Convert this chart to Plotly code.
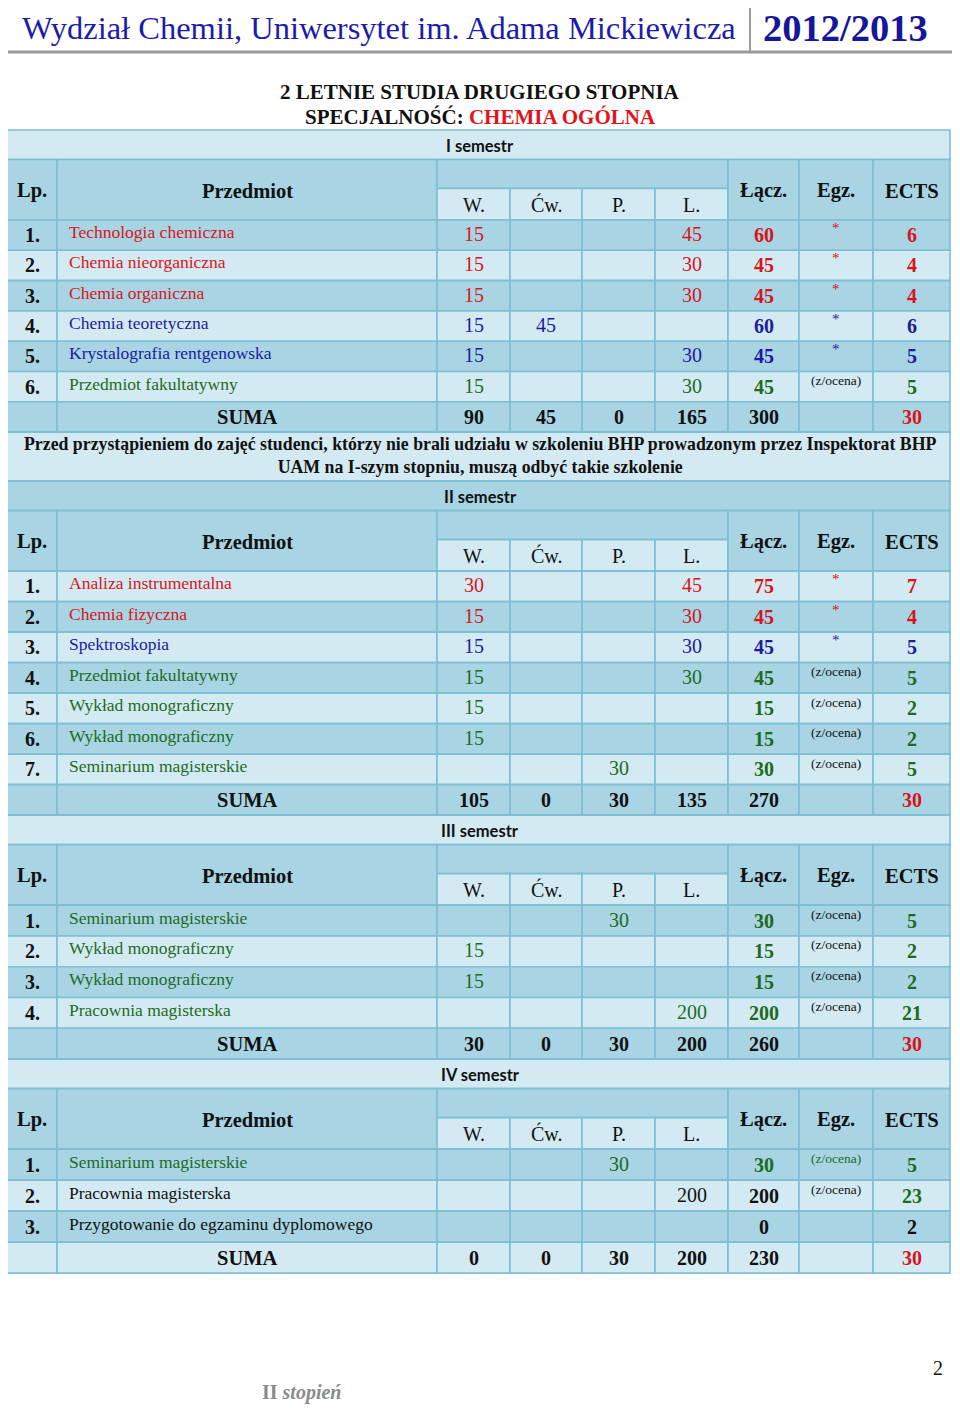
import plotly.graph_objects as go

# ---------------- data ----------------
COLUMNS = ["Lp.", "Przedmiot", "W.", "Ćw.", "P.", "L.", "Łącz.", "Egz.", "ECTS"]
SEMESTERS = ["I semestr", "II semestr", "III semestr", "IV semestr"]

sem1_subjects = ["Technologia chemiczna", "Chemia nieorganiczna", "Chemia organiczna",
                 "Chemia teoretyczna", "Krystalografia rentgenowska", "Przedmiot fakultatywny"]
sem1_w = [15, 15, 15, 15, 15, 15]
sem1_cw = [None, None, None, 45, None, None]
sem1_p = [None, None, None, None, None, None]
sem1_l = [45, 30, 30, None, 30, 30]
sem1_total = [60, 45, 45, 60, 45, 45]
sem1_egz = ["*", "*", "*", "*", "*", "(z/ocena)"]
sem1_ects = [6, 4, 4, 6, 5, 5]
sem1_suma = [90, 45, 0, 165, 300, 30]

sem2_subjects = ["Analiza instrumentalna", "Chemia fizyczna", "Spektroskopia",
                 "Przedmiot fakultatywny", "Wykład monograficzny", "Wykład monograficzny",
                 "Seminarium magisterskie"]
sem2_w = [30, 15, 15, 15, 15, 15, None]
sem2_cw = [None, None, None, None, None, None, None]
sem2_p = [None, None, None, None, None, None, 30]
sem2_l = [45, 30, 30, 30, None, None, None]
sem2_total = [75, 45, 45, 45, 15, 15, 30]
sem2_egz = ["*", "*", "*", "(z/ocena)", "(z/ocena)", "(z/ocena)", "(z/ocena)"]
sem2_ects = [7, 4, 5, 5, 2, 2, 5]
sem2_suma = [105, 0, 30, 135, 270, 30]

sem3_subjects = ["Seminarium magisterskie", "Wykład monograficzny", "Wykład monograficzny",
                 "Pracownia magisterska"]
sem3_w = [None, 15, 15, None]
sem3_cw = [None, None, None, None]
sem3_p = [30, None, None, None]
sem3_l = [None, None, None, 200]
sem3_total = [30, 15, 15, 200]
sem3_egz = ["(z/ocena)", "(z/ocena)", "(z/ocena)", "(z/ocena)"]
sem3_ects = [5, 2, 2, 21]
sem3_suma = [30, 0, 30, 200, 260, 30]

sem4_subjects = ["Seminarium magisterskie", "Pracownia magisterska",
                 "Przygotowanie do egzaminu dyplomowego"]
sem4_w = [None, None, None]
sem4_cw = [None, None, None]
sem4_p = [30, None, None]
sem4_l = [None, 200, None]
sem4_total = [30, 200, 0]
sem4_egz = ["(z/ocena)", "(z/ocena)", ""]
sem4_ects = [5, 23, 2]
sem4_suma = [0, 0, 30, 200, 230, 30]

NOTE = ("Przed przystąpieniem do zajęć studenci, którzy nie brali udziału w szkoleniu BHP "
        "prowadzonym przez Inspektorat BHP<br>UAM na I-szym stopniu, muszą odbyć takie szkolenie")

# ---------------- styles ----------------
SERIF = "Liberation Serif"
SANS = "Lato"
RED, BLUE, GREEN, BLACK = "#d8141c", "#1c1c9e", "#1e6b1e", "#111111"
LIGHT, DARK, BORDER = "#d4eaf2", "#a8d4e3", "#7dbfd4"

sem_styles = [
    dict(label=LIGHT, rows="DLDLDL", suma=DARK,
         text=[RED, RED, RED, BLUE, BLUE, GREEN],
         egz=[RED, RED, RED, BLUE, BLUE, BLACK], ects=None),
    dict(label=DARK, rows="LDLDLDL", suma=DARK,
         text=[RED, RED, BLUE, GREEN, GREEN, GREEN, GREEN],
         egz=[RED, RED, BLUE, BLACK, BLACK, BLACK, BLACK], ects=None),
    dict(label=LIGHT, rows="DLDL", suma=DARK,
         text=[GREEN] * 4, egz=[BLACK] * 4, ects=None),
    dict(label=LIGHT, rows="DLD", suma=LIGHT,
         text=[GREEN, BLACK, BLACK], egz=[GREEN, BLACK, BLACK],
         ects=[GREEN, GREEN, BLACK]),
]

X_EDGES = [7, 57, 437, 510, 582, 655, 728, 799, 873, 950]
LABEL_H, HEAD_H, NOTE_H = 29.5, 60.5, 49
ROW_H = [30.3, 30.5, 30.8, 31.0]

semesters = [
    (sem1_subjects, sem1_w, sem1_cw, sem1_p, sem1_l, sem1_total, sem1_egz, sem1_ects, sem1_suma),
    (sem2_subjects, sem2_w, sem2_cw, sem2_p, sem2_l, sem2_total, sem2_egz, sem2_ects, sem2_suma),
    (sem3_subjects, sem3_w, sem3_cw, sem3_p, sem3_l, sem3_total, sem3_egz, sem3_ects, sem3_suma),
    (sem4_subjects, sem4_w, sem4_cw, sem4_p, sem4_l, sem4_total, sem4_egz, sem4_ects, sem4_suma),
]

shapes = []
annotations = []


def cell(x0, x1, y0, y1, fill):
    shapes.append(dict(type="rect", xref="x", yref="y", x0=x0, x1=x1, y0=y0, y1=y1,
                       fillcolor=fill, line=dict(color=BORDER, width=1.6), layer="below"))


def text(x, y, s, size, color=BLACK, bold=False, family=SERIF, xanchor="center"):
    if bold:
        s = f"<b>{s}</b>"
    annotations.append(dict(x=x, y=y, xref="x", yref="y", text=s, showarrow=False,
                            xanchor=xanchor, yanchor="middle",
                            font=dict(family=family, size=size, color=color)))


def mid(i):
    return (X_EDGES[i] + X_EDGES[i + 1]) / 2


def header(y0):
    y1 = y0 + HEAD_H
    sub = y0 + 29
    cell(X_EDGES[0], X_EDGES[1], y0, y1, DARK)
    cell(X_EDGES[1], X_EDGES[2], y0, y1, DARK)
    cell(X_EDGES[2], X_EDGES[6], y0, sub, DARK)
    for i in range(2, 6):
        cell(X_EDGES[i], X_EDGES[i + 1], sub, y1, LIGHT)
        text(mid(i), sub + 16, COLUMNS[i], 20)
    for i in range(6, 9):
        cell(X_EDGES[i], X_EDGES[i + 1], y0, y1, DARK)
        text(mid(i), y0 + 31, COLUMNS[i], 20.5, bold=True)
    text(mid(0), y0 + 31, COLUMNS[0], 20.5, bold=True)
    text(mid(1), y0 + 31, COLUMNS[1], 20.5, bold=True)
    return y1


def fmt(v):
    return "" if v is None else str(v)


y = 130
for s, (subj, w, cw, p, l, tot, egz, ects, suma) in enumerate(semesters):
    st = sem_styles[s]
    rh = ROW_H[s]
    cell(X_EDGES[0], X_EDGES[-1], y, y + LABEL_H, st["label"])
    text(480, y + LABEL_H / 2 + 1, SEMESTERS[s], 16.5, bold=True, family=SANS)
    y = header(y + LABEL_H)
    for r, name in enumerate(subj):
        fill = DARK if st["rows"][r] == "D" else LIGHT
        for i in range(9):
            cell(X_EDGES[i], X_EDGES[i + 1], y, y + rh, fill)
        col = st["text"][r]
        ects_col = st["ects"][r] if st["ects"] else col
        ty = y + rh / 2 - 1
        text(mid(0), ty + 1, f"{r + 1}.", 20, bold=True)
        text(X_EDGES[1] + 10, ty - 2, name, 17.5, col, xanchor="left")
        for i, vals in zip(range(2, 6), (w, cw, p, l)):
            text(mid(i), ty, fmt(vals[r]), 20, col)
        text(mid(6), ty + 1, fmt(tot[r]), 20, col, bold=True)
        if egz[r] == "*":
            text(mid(7), y + 8, "*", 15, st["egz"][r])
        elif egz[r]:
            text(mid(7), y + 9, egz[r], 13.5, st["egz"][r])
        text(mid(8), ty + 1, fmt(ects[r]), 20, ects_col, bold=True)
        y += rh
    for i in range(9):
        cell(X_EDGES[i], X_EDGES[i + 1], y, y + rh, st["suma"])
    ty = y + rh / 2
    text(mid(1), ty, "SUMA", 20.5, bold=True)
    for i, v in zip((2, 3, 4, 5, 6, 8), suma):
        text(mid(i), ty, str(v), 20, RED if i == 8 else BLACK, bold=True)
    y += rh
    if s == 0:
        cell(X_EDGES[0], X_EDGES[-1], y, y + NOTE_H, LIGHT)
        annotations.append(dict(x=480, y=y + NOTE_H / 2 - 1, xref="x", yref="y",
                                text=f"<b>{NOTE}</b>", showarrow=False, align="center",
                                font=dict(family=SERIF, size=17.8, color=BLACK)))
        y += NOTE_H

# page heading
text(20, 28, "Wydział Chemii, Uniwersytet im. Adama Mickiewicza", 32.5, "#1c1cac", xanchor="left")
text(761, 28, "2012/2013", 38.5, "#16169a", bold=True, xanchor="left")
shapes.append(dict(type="line", xref="x", yref="y", x0=5, x1=955, y0=52, y1=52,
                   line=dict(color="#9a9a9a", width=3)))
shapes.append(dict(type="line", xref="x", yref="y", x0=750, x1=750, y0=2, y1=52,
                   line=dict(color="#9a9a9a", width=2)))

text(480, 92, "2 LETNIE STUDIA DRUGIEGO STOPNIA", 21, bold=True)
text(480, 117, "SPECJALNOŚĆ: <span style='color:#e0141c'>CHEMIA OGÓLNA</span>", 21, bold=True)

# footer
text(301, 1392, "II <i>stopień</i>", 20, "#8a8a8a", bold=True)
text(938, 1368, "2", 20, BLACK)

fig = go.Figure()
# the page body has an 8px margin, so the axes start at 8 to keep page pixels == data units
fig.update_layout(
    width=960, height=1408,
    margin=dict(l=0, r=0, t=0, b=0),
    paper_bgcolor="white", plot_bgcolor="white",
    xaxis=dict(range=[8, 968], visible=False, fixedrange=True),
    yaxis=dict(range=[1416, 8], visible=False, fixedrange=True),
    shapes=shapes, annotations=annotations, showlegend=False,
)
fig.write_html("out.html")
